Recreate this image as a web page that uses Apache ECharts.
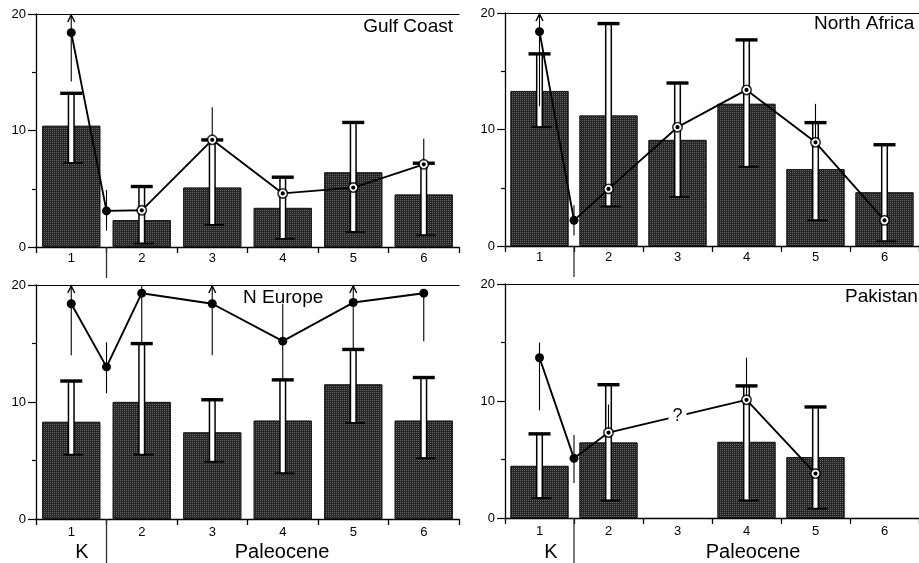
<!DOCTYPE html>
<html>
<head>
<meta charset="utf-8">
<script src="https://cdn.jsdelivr.net/npm/echarts@6/dist/echarts.min.js"></script>
<style>
html,body{margin:0;padding:0;background:#fff;}
#chart{width:919px;height:563px;}
</style>
</head>
<body>
<div id="chart"></div>
<script>
// ---------- data ----------
const categories = ['1', '2', '3', '4', '5', '6'];
const pointX = [1, 1.5, 2, 3, 4, 5, 6];
const kpgBoundary = 1.5;

// Gulf Coast
const gulfBar      = [10.4, 2.3, 5.1, 3.35, 6.4, 4.5];
const gulfBarLow   = [7.2, 0.3, 1.9, 0.7, 1.3, 1.0];
const gulfBarHigh  = [13.2, 5.2, 9.2, 6.0, 10.7, 7.2];
const gulfPoint    = [18.4, 3.1, 3.15, 9.2, 4.6, 5.1, 7.1];
const gulfPointLow = [14.2, 1.4, null, 9.2, null, null, 7.1];
const gulfPointHigh= [20, 4.9, null, 12.0, null, null, 9.3];
const gulfArrow    = [1, 0, 0, 0, 0, 0, 0];

// North Africa
const naBar       = [13.3, 11.2, 9.1, 12.2, 6.6, 4.6];
const naBarLow    = [10.2, 3.4, 4.2, 6.8, 2.2, 0.4];
const naBarHigh   = [16.5, 19.1, 14.0, 17.7, 10.6, 8.7];
const naPoint     = [18.4, 2.2, 4.9, 10.2, 13.4, 8.9, 2.2];
const naPointLow  = [12.0, 0.9, null, null, null, 8.9, null];
const naPointHigh = [20, 3.5, null, null, null, 12.2, null];
const naArrow     = [1, 0, 0, 0, 0, 0, 0];

// N Europe
const neBar       = [8.3, 10.0, 7.4, 8.4, 11.5, 8.4];
const neBarLow    = [5.5, 5.5, 4.9, 3.9, 8.2, 5.2];
const neBarHigh   = [11.8, 15.0, 10.2, 11.9, 14.5, 12.1];
const nePoint     = [18.4, 13.0, 19.3, 18.4, 15.2, 18.5, 19.3];
const nePointLow  = [14.0, 10.75, 15.0, 14.0, 11.9, 14.5, 15.2];
const nePointHigh = [20, 15.1, 20, 20, 18.4, 20, 19.3];
const neArrow     = [1, 0, 0, 1, 0, 1, 0];

// Pakistan
const pkBar       = [4.45, 6.45, null, 6.5, 5.2, null];
const pkBarLow    = [1.7, 1.5, null, 1.5, 0.8, null];
const pkBarHigh   = [7.2, 11.4, null, 11.3, 9.5, null];
const pkPoint     = [13.7, 5.1, 7.3, null, 10.1, 3.8, null];
const pkPointLow  = [9.2, 3.0, 7.3, null, 10.1, null, null];
const pkPointHigh = [15.0, 7.1, 9.7, null, 13.7, null, null];
const pkArrow     = [0, 0, 0, 0, 0, 0, 0];

const panelNames = ['Gulf Coast', 'North Africa', 'N Europe', 'Pakistan'];
const bottomLabels = ['K', 'Paleocene'];

// ---------- build ----------
const FONT = 'Liberation Sans, Arial, Helvetica, sans-serif';
const panels = [
  {bar: gulfBar, lo: gulfBarLow, hi: gulfBarHigh, pt: gulfPoint, plo: gulfPointLow, phi: gulfPointHigh, arrow: gulfArrow, ringed: true,
   grid: {left: 36, top: 14, width: 423, height: 233}, ext: 31, labelMargin: 5},
  {bar: naBar, lo: naBarLow, hi: naBarHigh, pt: naPoint, plo: naPointLow, phi: naPointHigh, arrow: naArrow, ringed: true,
   grid: {left: 505, top: 13, width: 423, height: 233}, ext: 31, labelMargin: 5},
  {bar: neBar, lo: neBarLow, hi: neBarHigh, pt: nePoint, plo: nePointLow, phi: nePointHigh, arrow: neArrow, ringed: false,
   grid: {left: 36, top: 285, width: 423, height: 234}, ext: 50, labelMargin: 7},
  {bar: pkBar, lo: pkBarLow, hi: pkBarHigh, pt: pkPoint, plo: pkPointLow, phi: pkPointHigh, arrow: pkArrow, ringed: true,
   grid: {left: 505, top: 284, width: 423, height: 234}, ext: 50, labelMargin: 7, question: true}
];

const grid = [], xAxis = [], yAxis = [], series = [];

function errRender(params, api) {
  const x = api.value(0), lo = api.value(1), hi = api.value(2);
  const pLo = api.coord([x, lo]), pHi = api.coord([x, hi]);
  const cx = pLo[0];
  return {type: 'group', children: [
    {type: 'rect', shape: {x: cx - 2.8, y: pHi[1], width: 5.6, height: pLo[1] - pHi[1]},
     style: {fill: '#fff', stroke: '#000', lineWidth: 1.5}},
    {type: 'rect', shape: {x: cx - 11, y: pHi[1] - 1.6, width: 22, height: 3.4}, style: {fill: '#000'}},
    {type: 'line', shape: {x1: cx - 8, y1: pLo[1], x2: cx + 12, y2: pLo[1]}, style: {stroke: '#000', lineWidth: 1.8}}
  ]};
}
function rangeRender(params, api) {
  const x = api.value(0), lo = api.value(1), hi = api.value(2), arrow = api.value(3);
  const pLo = api.coord([x, lo]), pHi = api.coord([x, hi]);
  const cx = pLo[0];
  const ch = [{type: 'line', shape: {x1: cx, y1: pLo[1], x2: cx, y2: pHi[1] + (arrow ? 1 : 0)},
               style: {stroke: '#000', lineWidth: 1.1}}];
  if (arrow) {
    ch.push({type: 'polyline', shape: {points: [[cx - 3.5, pHi[1] + 8], [cx, pHi[1] + 1], [cx + 3.5, pHi[1] + 8]]},
             style: {stroke: '#000', lineWidth: 1.4, fill: null}});
  }
  return {type: 'group', children: ch};
}

panels.forEach((p, i) => {
  grid.push(Object.assign({containLabel: false}, p.grid));
  xAxis.push({
    type: 'category', gridIndex: i, data: categories, position: 'bottom', boundaryGap: true,
    axisLine: {lineStyle: {color: '#000', width: 1.3}},
    axisTick: {show: true, length: 6, lineStyle: {color: '#000', width: 1.3}},
    axisLabel: {color: '#000', fontSize: 13, fontFamily: FONT, margin: p.labelMargin},
    splitLine: {show: false}
  });
  xAxis.push({
    type: 'value', gridIndex: i, min: 0.5, max: 6.5, position: 'top',
    axisLine: {show: true, onZero: false, lineStyle: {color: '#000', width: 1.2}},
    axisTick: {show: false}, axisLabel: {show: false}, splitLine: {show: false}
  });
  yAxis.push({
    type: 'value', gridIndex: i, min: 0, max: 20, interval: 10,
    axisLine: {show: true, lineStyle: {color: '#000', width: 1.3}},
    axisTick: {show: true, length: 8, lineStyle: {color: '#000', width: 1.2}},
    minorTick: {show: true, splitNumber: 2, length: 4, lineStyle: {color: '#000', width: 1.2}},
    axisLabel: {color: '#000', fontSize: 13, fontFamily: FONT, margin: 10},
    splitLine: {show: false}, minorSplitLine: {show: false}
  });
  const catAx = 2 * i, valAx = 2 * i + 1;

  series.push({
    type: 'bar', xAxisIndex: catAx, yAxisIndex: i, barWidth: 58, z: 2,
    data: p.bar.map(v => v == null ? '-' : v),
    itemStyle: {color: '#262626', borderColor: '#111', borderWidth: 0.8,
      decal: {symbol: 'rect', symbolSize: 1, color: 'rgba(255,255,255,0.3)', dashArrayX: [[1, 1]], dashArrayY: [1, 1]}},
    silent: true
  });
  const err = [];
  p.bar.forEach((v, k) => { if (v != null) err.push([k + 1, p.lo[k], p.hi[k]]); });
  series.push({type: 'custom', xAxisIndex: valAx, yAxisIndex: i, z: 3, data: err,
    encode: {x: 0, y: [1, 2]}, renderItem: errRender, silent: true});

  const rng = [];
  pointX.forEach((x, k) => { if (p.plo[k] != null) rng.push([x, p.plo[k], p.phi[k], p.arrow[k]]); });
  series.push({type: 'custom', xAxisIndex: valAx, yAxisIndex: i, z: 4, data: rng, clip: false,
    encode: {x: 0, y: [1, 2]}, renderItem: rangeRender, silent: true});

  const ext = p.ext;
  series.push({type: 'custom', xAxisIndex: valAx, yAxisIndex: i, z: 4, clip: false, silent: true,
    data: [[kpgBoundary, 0]],
    renderItem: (params, api) => {
      const c = api.coord([api.value(0), api.value(1)]);
      return {type: 'line', shape: {x1: c[0], y1: c[1], x2: c[0], y2: c[1] + ext},
              style: {stroke: '#333', lineWidth: 1.3}};
    }});

  const pts = [], rings = [];
  pointX.forEach((x, k) => {
    const v = p.pt[k];
    if (v == null) return;
    const paleo = x >= 2;
    if (p.ringed && paleo) {
      pts.push({value: [x, v], symbolSize: 6, itemStyle: {color: '#000', borderColor: '#fff', borderWidth: 1.8}});
      rings.push([x, v]);
    } else {
      pts.push({value: [x, v], symbolSize: 9, itemStyle: {color: '#000', borderWidth: 0}});
    }
  });
  series.push({type: 'scatter', xAxisIndex: valAx, yAxisIndex: i, z: 5, symbolSize: 11, data: rings,
    itemStyle: {color: '#000'}, silent: true});
  series.push({type: 'line', xAxisIndex: valAx, yAxisIndex: i, z: 6, data: pts, symbol: 'circle',
    showAllSymbol: true, lineStyle: {color: '#000', width: 1.9}, silent: true, clip: false});

  if (p.question) {
    const a = p.pt[2], b = p.pt[4];
    series.push({type: 'scatter', xAxisIndex: valAx, yAxisIndex: i, z: 7, silent: true,
      data: [[3, (a + b) / 2]], symbolSize: 2, itemStyle: {color: '#fff', opacity: 1},
      label: {show: true, position: 'inside', formatter: '?', fontSize: 18, fontFamily: FONT, color: '#000',
              opacity: 1, backgroundColor: '#fff', padding: [0, 4]}});
  }
});

const graphic = [
  {type: 'text', x: 453, y: 27, style: {text: panelNames[0], font: '19px ' + FONT, fill: '#000', align: 'right', verticalAlign: 'middle'}},
  {type: 'text', x: 814, y: 24, style: {text: panelNames[1], font: '19px ' + FONT, fill: '#000', align: 'left', verticalAlign: 'middle'}},
  {type: 'text', x: 243, y: 298, style: {text: panelNames[2], font: '19px ' + FONT, fill: '#000', align: 'left', verticalAlign: 'middle'}},
  {type: 'text', x: 845, y: 297, style: {text: panelNames[3], font: '19px ' + FONT, fill: '#000', align: 'left', verticalAlign: 'middle'}},
  {type: 'text', x: 82, y: 552, style: {text: bottomLabels[0], font: '20px ' + FONT, fill: '#000', align: 'center', verticalAlign: 'middle'}},
  {type: 'text', x: 282, y: 552, style: {text: bottomLabels[1], font: '20px ' + FONT, fill: '#000', align: 'center', verticalAlign: 'middle'}},
  {type: 'text', x: 551, y: 552, style: {text: bottomLabels[0], font: '20px ' + FONT, fill: '#000', align: 'center', verticalAlign: 'middle'}},
  {type: 'text', x: 753, y: 552, style: {text: bottomLabels[1], font: '20px ' + FONT, fill: '#000', align: 'center', verticalAlign: 'middle'}}
];

const chart = echarts.init(document.getElementById('chart'), null, {renderer: 'canvas'});
chart.setOption({
  animation: false,
  backgroundColor: '#fff',
  textStyle: {fontFamily: FONT},
  grid, xAxis, yAxis, series, graphic
});
</script>
</body>
</html>
